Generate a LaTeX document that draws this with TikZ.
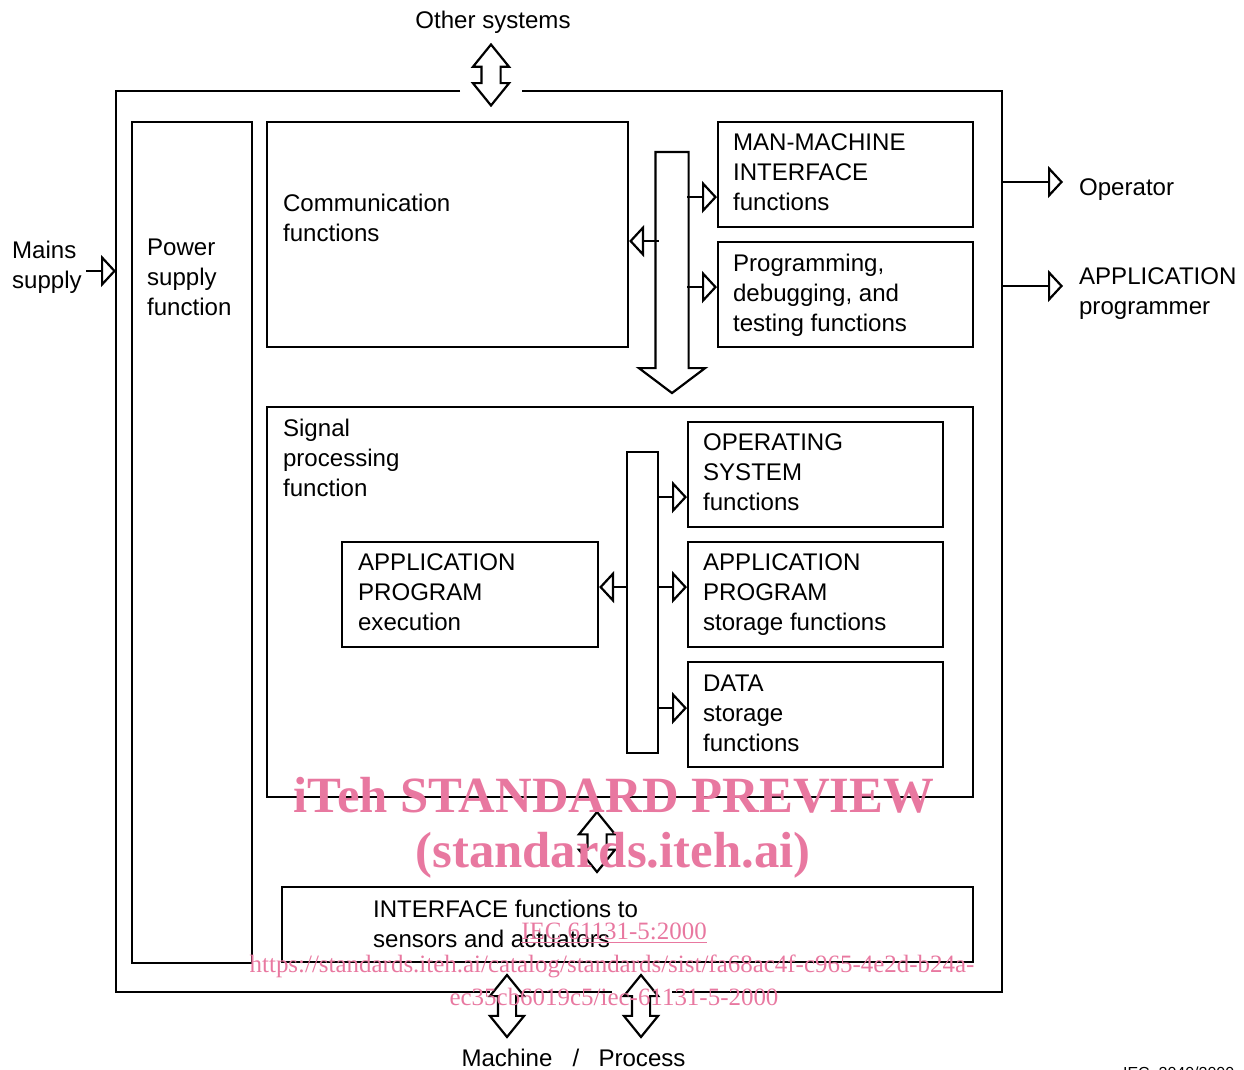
\documentclass[tikz,border=0pt]{standalone}
\usepackage{fontspec}
\setmainfont{Liberation Sans}
\newfontfamily\wmfont{Liberation Serif}
\usetikzlibrary{arrows.meta,shapes.arrows}
\definecolor{wmPink}{RGB}{232,120,160}
\newcommand{\lblsize}{\fontsize{13.7pt}{17.1pt}\selectfont}
\tikzset{
fbox/.style={draw, rectangle, inner sep=0pt, anchor=north west},
lbl/.style={inner sep=0pt, anchor=north west, align=left, font=\lblsize},
openin/.style={{Triangle[open, length=0.3cm, width=0.64cm]}-},
openout/.style={-{Triangle[open, length=0.3cm, width=0.64cm]}},
dblarrow/.style={draw, double arrow, rotate=90, fill=white, inner xsep=0pt, inner ysep=0.17cm, minimum height=1.22cm, double arrow head extend=0.17cm, double arrow tip angle=78},
wmark/.style={text=wmPink, inner sep=0pt}
}
\begin{document}
\begin{tikzpicture}[x=0.02cm, y=-0.02cm, line width=1.25pt]
\useasboundingbox (0,0) rectangle (1244,1070);

\draw (460,91) -- (116,91) -- (116,992) -- (490,992);
\draw (524,992) -- (612,992);
\draw (672,992) -- (1002,992) -- (1002,91) -- (522,91);

\coordinate (mainsIn) at (116,271);
\coordinate (opOut) at (1002,182);
\coordinate (progOut) at (1002,286);

\node[fbox, minimum width=2.4cm, minimum height=16.82cm] (power) at (131,121) {};
\node[fbox, minimum width=7.22cm, minimum height=4.5cm] (comm) at (266,121) {};
\node[fbox, minimum width=5.1cm, minimum height=2.1cm] (mmi) at (717,121) {};
\node[fbox, minimum width=5.1cm, minimum height=2.1cm] (prog) at (717,241) {};
\node[fbox, minimum width=14.12cm, minimum height=7.8cm] (signal) at (266,406) {};
\node[fbox, minimum width=5.1cm, minimum height=2.1cm] (os) at (687,421) {};
\node[fbox, minimum width=5.1cm, minimum height=2.1cm] (apstore) at (687,541) {};
\node[fbox, minimum width=5.1cm, minimum height=2.1cm] (data) at (687,661) {};
\node[fbox, minimum width=5.12cm, minimum height=2.1cm] (apexec) at (341,541) {};
\node[fbox, minimum width=0.62cm, minimum height=6.02cm] (ibus) at (626,451) {};
\node[fbox, minimum width=13.82cm, minimum height=1.5cm] (iface) at (281,886) {};

\node[draw, single arrow, rotate=-90, anchor=tail, inner xsep=0pt, inner ysep=0.31cm, minimum height=4.82cm, single arrow head extend=0.33cm, single arrow tip angle=106] (bus) at (672,151) {};

\node[dblarrow] (otherArrow) at (491,75) {};
\node[dblarrow, minimum height=1.2cm] (sigArrow) at (597,842) {};
\node[dblarrow, minimum height=1.24cm, inner ysep=0.16cm, double arrow head extend=0.16cm] (machArrow) at (507,1006) {};
\node[dblarrow, minimum height=1.24cm, inner ysep=0.16cm, double arrow head extend=0.16cm] (procArrow) at (641,1006) {};

\draw[openin] ([yshift=-0.45cm]mmi.west) -- ++(-30,0);
\draw[openin] ([yshift=0.15cm]prog.west) -- ++(-30,0);
\draw[openin] ([yshift=-0.13cm]comm.east) -- ++(30,0);
\draw[openin] ([yshift=-0.45cm]os.west) -- ++(-30,0);
\draw[openin] ([yshift=0.15cm]apstore.west) -- ++(-30,0);
\draw[openin] ([yshift=0.13cm]data.west) -- ++(-30,0);
\draw[openin] ([yshift=0.15cm]apexec.east) -- ++(29,0);
\draw[openin] (mainsIn) -- ++(-30,0);
\draw[openout] (opOut) -- ++(61,0);
\draw[openout] (progOut) -- ++(61,0);

\node[lbl, anchor=center] (otherLbl) at (493,22) {Other systems};
\node[lbl] (mainsLbl) at (11,240) {Mains\\supply};
\node[lbl] (powerLbl) at (146,238) {Power\\supply\\function};
\node[lbl] (commLbl) at (282,193) {Communication\\functions};
\node[lbl] (mmiLbl) at (732,133) {MAN-MACHINE\\INTERFACE\\functions};
\node[lbl] (progLbl) at (732,253) {Programming,\\debugging, and\\testing functions};
\node[lbl] (opLbl) at (1078,178) {Operator};
\node[lbl] (appLbl) at (1078,267) {APPLICATION\\programmer};
\node[lbl] (sigLbl) at (282,418) {Signal\\processing\\function};
\node[lbl] (osLbl) at (702,433) {OPERATING\\SYSTEM\\functions};
\node[lbl] (apstoreLbl) at (702,553) {APPLICATION\\PROGRAM\\storage functions};
\node[lbl] (dataLbl) at (702,674) {DATA\\storage\\functions};
\node[lbl] (apexecLbl) at (357,553) {APPLICATION\\PROGRAM\\execution};
\node[lbl] (ifaceLbl) at (372,899) {INTERFACE functions to\\sensors and actuators};
\node[lbl, anchor=center] (machLbl) at (507,1058) {Machine};
\node[lbl, anchor=center] (slashLbl) at (576,1058) {/};
\node[lbl, anchor=center] (procLbl) at (642,1058) {Process};
\node[inner sep=0pt, anchor=north west, font=\fontsize{9.1pt}{10pt}\selectfont] (figNo) at (1122,1066) {IEC\ \ 2040/2000};

\node[wmark, font=\wmfont\bfseries\fontsize{28.9pt}{30pt}\selectfont] (wm1) at (614,795) {iTeh STANDARD PREVIEW};
\node[wmark, font=\wmfont\bfseries\fontsize{28.9pt}{30pt}\selectfont] (wm2) at (613,855) {(standards.iteh.ai)};
\node[wmark, font=\wmfont\fontsize{14.2pt}{15pt}\selectfont] (wm3) at (614,933) {\underline{IEC 61131-5:2000}};
\node[wmark, font=\wmfont\fontsize{14.2pt}{15pt}\selectfont] (wm4) at (612,966) {https://standards.iteh.ai/catalog/standards/sist/fa68ac4f-c965-4e2d-b24a-};
\node[wmark, font=\wmfont\fontsize{14.2pt}{15pt}\selectfont] (wm5) at (614,997) {ec35cb6019c5/iec-61131-5-2000};
\end{tikzpicture}
\end{document}
